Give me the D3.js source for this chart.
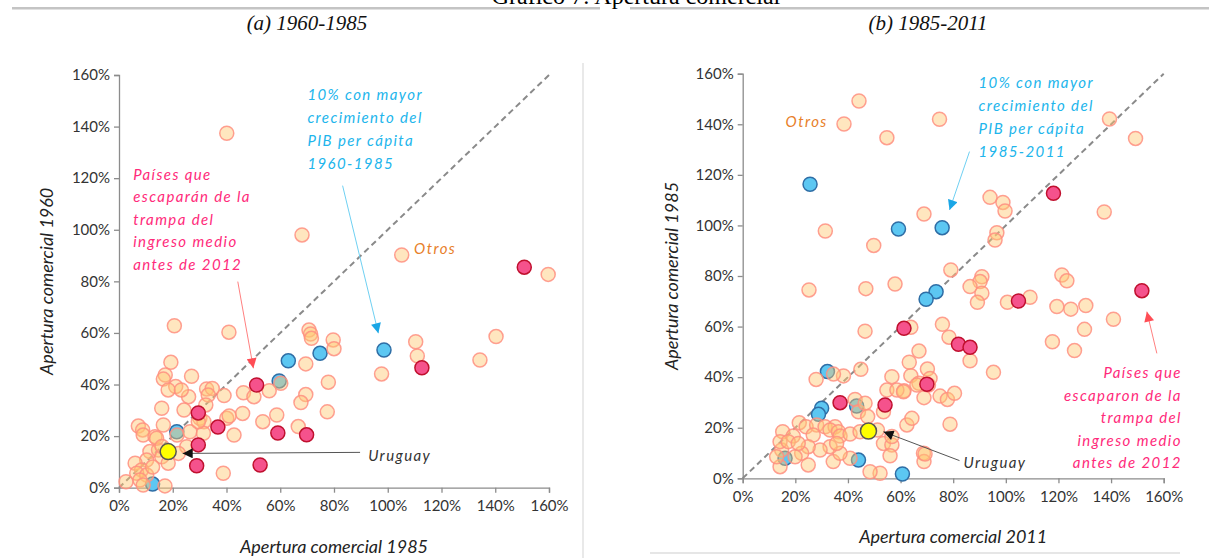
<!DOCTYPE html>
<html>
<head>
<meta charset="utf-8">
<script src="https://cdn.jsdelivr.net/npm/d3@7/dist/d3.min.js"></script>
<style>
  body { margin: 0; background: #fff; }
  svg { display: block; font-family: Lato, "Open Sans", sans-serif; }
</style>
</head>
<body>
<svg width="1209" height="558"></svg>
<script>
// tick values (percent)
var tickValues = [0, 20, 40, 60, 80, 100, 120, 140, 160];

// panel (a) 1960-1985 : [apertura 1985, apertura 1960]
var otrosA = [[40.1,137.4],[68.1,98.0],[105.2,90.2],[159.7,82.7],
  [70.7,61.1],[71.3,59.6],[71.6,57.9],[79.7,57.3],[80.0,53.9],[69.5,48.0],[110.4,56.6],[111.0,51.1],
  [97.7,44.1],[134.3,49.5],[140.3,58.6],[77.9,40.9],[69.5,36.1],[67.7,33.0],[77.5,29.4],[66.7,23.7],
  [20.6,62.8],[40.9,60.3],[19.3,48.6],[17.2,43.7],[16.5,42.1],[27.0,43.2],[21.1,39.2],[18.3,37.9],
  [25.9,35.3],[32.6,38.3],[34.7,38.5],[33.2,35.9],[39.1,35.7],[46.3,36.8],[50.2,35.3],[55.9,37.6],
  [60.2,40.5],[23.2,37.9],[15.9,30.8],[24.2,30.1],[30.1,26.9],[31.6,25.6],[40.1,26.9],[41.0,27.8],
  [46.0,28.8],[53.5,25.6],[58.7,28.2],[42.8,20.4],[16.5,24.3],[7.2,23.9],[8.8,22.4],[9.0,20.4],
  [21.6,20.4],[13.4,19.8],[26.4,21.7],[31.4,21.1],[29.5,25.6],[32.3,32.1],[25.2,15.9],[22.1,13.3],
  [11.5,14.0],[14.7,14.6],[15.9,12.0],[10.3,10.7],[18.3,9.5],[6.0,9.5],[8.4,6.9],[6.6,5.6],
  [10.3,4.9],[7.8,3.0],[2.6,2.3],[9.0,1.0],[17.1,0.7],[38.8,5.6],[14.0,19.2],[16.0,16.0],[12.5,8.0]];
var azulA = [[21.5,21.7],[12.5,1.4],[59.6,41.4],[63.0,49.2],[74.8,52.1],[98.6,53.4]];
var rojoA = [[29.5,29.0],[29.5,16.6],[28.9,8.5],[36.8,23.5],[51.2,39.8],[52.5,8.8],[59.1,21.2],
  [69.8,20.5],[112.7,46.5],[150.8,85.5]];
var uruguayA = [[18.3,14.0]];

// panel (b) 1985-2011 : [apertura 2011, apertura 1985]
var otrosB = [[44.2,149.2],[38.5,140.1],[54.8,134.7],[74.8,142.0],[68.9,104.5],[31.4,97.8],[49.8,92.1],
  [25.2,74.5],[46.8,75.0],[57.9,76.8],[139.4,142.1],[149.3,134.4],[94.0,111.1],[98.9,109.1],[99.7,105.7],
  [137.4,105.3],[96.6,97.1],[95.9,94.2],[79.1,82.4],[90.9,79.7],[90.2,77.8],[86.4,75.8],[121.3,80.4],
  [123.2,78.1],[90.9,73.2],[89.2,69.6],[109.2,71.6],[100.6,69.6],[119.4,67.9],[124.7,66.9],[130.4,68.3],
  [140.9,62.9],[129.9,58.9],[117.7,54.0],[126.1,50.5],[95.3,41.9],[63.9,59.7],[75.9,60.9],[78.4,55.8],
  [86.4,46.5],[67.0,50.3],[63.3,45.9],[70.2,43.2],[63.9,40.6],[67.0,37.6],[71.2,39.5],[61.3,34.6],
  [68.9,31.9],[75.0,32.5],[77.8,31.2],[80.5,33.6],[78.8,21.4],[68.7,9.9],[68.9,6.6],[46.5,58.2],
  [56.7,40.2],[70.6,36.9],[66.2,36.9],[44.9,43.1],[38.3,40.5],[34.5,41.2],[27.9,39.1],[54.8,34.9],
  [58.6,34.9],[61.1,34.2],[42.7,31.2],[44.0,26.3],[46.5,29.7],[53.5,26.3],[47.5,24.4],[21.5,22.0],
  [24.1,20.4],[15.2,18.4],[19.2,16.7],[28.1,21.1],[31.3,20.4],[35.1,20.4],[33.2,19.1],[36.4,18.4],
  [37.0,16.7],[26.8,17.1],[40.8,17.5],[44.6,18.4],[51.2,19.1],[53.5,13.8],[56.7,13.2],[56.0,8.9],
  [56.7,16.5],[62.4,21.1],[64.3,23.7],[69.3,9.6],[52.2,2.0],[48.4,2.6],[40.8,7.9],[34.4,6.6],[37.0,9.9],
  [33.2,12.5],[35.7,13.8],[29.4,11.2],[24.9,12.5],[22.4,9.9],[24.9,5.3],[19.9,8.5],[14.2,4.6],
  [14.8,11.2],[14.2,14.5],[17.3,14.5],[21.1,13.8],[12.9,8.5]];
var azulB = [[25.6,116.3],[59.2,98.6],[75.8,99.1],[73.5,73.8],[69.7,70.8],[32.2,42.2],[30.0,27.7],
  [28.8,25.3],[43.3,28.6],[16.1,7.9],[44.0,7.2],[60.7,1.7]];
var rojoB = [[118.1,112.7],[151.7,74.2],[104.8,70.1],[61.3,59.3],[82.0,53.0],[86.4,51.8],[70.0,37.2],
  [37.0,29.9],[54.1,29.0]];
var uruguayB = [[47.8,18.7]];

var svg = d3.select('svg');

// arrow heads
var defs = svg.append('defs');
[['azul', '#1aa6e6'], ['rosa', '#ff4d55'], ['negro', '#111']].forEach(function (m) {
    defs.append('marker')
        .attr('id', 'm-' + m[0])
        .attr('viewBox', '0 0 10 10')
        .attr('refX', 10).attr('refY', 5)
        .attr('markerWidth', 11).attr('markerHeight', 10)
        .attr('markerUnits', 'userSpaceOnUse')
        .attr('orient', 'auto')
        .append('path').attr('d', 'M0,0L10,5L0,10Z').attr('fill', m[1]);
});

// header rules and titles (the page title is cut by the top edge, as in the source)
svg.append('text').attr('x', 636).attr('y', 4)
    .attr('text-anchor', 'middle')
    .style('font-family', '"Liberation Serif", serif').style('font-size', '24px')
    .text('Gráfico 7: Apertura comercial');
svg.append('rect').attr('x', 12).attr('y', 7).attr('width', 588).attr('height', 2.5).attr('fill', '#c4c4c4');
svg.append('rect').attr('x', 630).attr('y', 7).attr('width', 579).attr('height', 2.5).attr('fill', '#c4c4c4');
svg.append('line').attr('x1', 583).attr('x2', 583).attr('y1', 63).attr('y2', 558)
    .attr('stroke', '#e2e2e2').attr('stroke-width', 1.5);
svg.append('line').attr('x1', 650).attr('x2', 1180).attr('y1', 553).attr('y2', 553)
    .attr('stroke', '#dedede').attr('stroke-width', 1.5);

var panels = [
    {
        sub: '(a) 1960-1985', subX: 307,
        xr: [119, 549], yr: [487.7, 75],
        xTitle: 'Apertura comercial 1985', xTitleY: 553,
        yTitle: 'Apertura comercial 1960', yTitleX: 53,
        otros: otrosA, azul: azulA, rojo: rojoA, uru: uruguayA,
        blueText: ['10% con mayor', 'crecimiento del', 'PIB per cápita', '1960-1985'],
        blueAt: [70.1, 150.3], blueArrow: [[83.2, 117.1], [96.5, 59.9]],
        pinkText: ['Países que', 'escaparán de la', 'trampa del', 'ingreso medio', 'antes de 2012'],
        pinkAt: [5.3, 119.3], pinkAnchor: 'start', pinkArrow: [[44.2, 79.9], [50.0, 46.3]],
        otrosAt: [109.8, 90.6],
        uruAt: [92.7, 10.4], uruArrow: [[89.7, 13.7], [23.7, 13.3]]
    },
    {
        sub: '(b) 1985-2011', subX: 928,
        xr: [742.7, 1163.7], yr: [478.3, 73.7],
        xTitle: 'Apertura comercial 2011', xTitleY: 543,
        yTitle: 'Apertura comercial 1985', yTitleX: 678,
        otros: otrosB, azul: azulB, rojo: rojoB, uru: uruguayB,
        blueText: ['10% con mayor', 'crecimiento del', 'PIB per cápita', '1985-2011'],
        blueAt: [89.6, 154.2], blueArrow: [[86.2, 129.2], [78.6, 106.1]],
        pinkText: ['Países que', 'escaparon de la', 'trampa del', 'ingreso medio', 'antes de 2012'],
        pinkAt: [166.9, 39.5], pinkAnchor: 'end', pinkArrow: [[157.4, 49.4], [153.6, 65.9]],
        otrosAt: [16.3, 138.9],
        uruAt: [83.9, 4.2], uruArrow: [[82.4, 7.0], [53.5, 18.4]]
    }
];

panels.forEach(function (p) {
    var x = d3.scaleLinear().domain([0, 160]).range(p.xr);
    var y = d3.scaleLinear().domain([0, 160]).range(p.yr);
    var g = svg.append('g');

    // subtitle
    svg.append('text').attr('x', p.subX).attr('y', 30)
        .attr('text-anchor', 'middle')
        .style('font-family', '"Liberation Serif", serif').style('font-style', 'italic')
        .style('font-size', '21px').attr('fill', '#111')
        .text(p.sub);

    // axes
    var fmt = function (d) { return d + '%'; };
    var yAxis = g.append('g').attr('transform', 'translate(' + [p.xr[0], 0] + ')')
        .call(d3.axisLeft(y).tickValues(tickValues).tickFormat(fmt).tickSize(5).tickPadding(4));
    var xAxis = g.append('g').attr('transform', 'translate(' + [0, p.yr[0]] + ')')
        .call(d3.axisBottom(x).tickValues(tickValues).tickFormat(fmt).tickSize(5).tickPadding(8));
    [yAxis, xAxis].forEach(function (a) {
        a.selectAll('path, line').attr('stroke', '#8c8c8c').attr('stroke-width', 1.3);
        a.selectAll('text').attr('fill', '#333').style('font-size', '15px').style('font-family', 'Lato, sans-serif');
    });

    // axis titles
    g.append('text').attr('x', (p.xr[0] + p.xr[1]) / 2).attr('y', p.xTitleY)
        .attr('text-anchor', 'middle').style('font-style', 'italic').style('font-size', '18px')
        .attr('fill', '#222').text(p.xTitle);
    g.append('text').attr('transform', 'translate(' + [p.yTitleX, (p.yr[0] + p.yr[1]) / 2] + ') rotate(-90)')
        .attr('text-anchor', 'middle').style('font-style', 'italic').style('font-size', '18px')
        .attr('fill', '#222').text(p.yTitle);

    // 45 degree line
    g.append('line')
        .attr('x1', x(0)).attr('y1', y(0)).attr('x2', x(160)).attr('y2', y(160))
        .attr('stroke', '#8a8a8a').attr('stroke-width', 2).attr('stroke-dasharray', '6,4');

    // points
    g.selectAll('.azul').data(p.azul).enter().append('circle')
        .attr('cx', d => x(d[0])).attr('cy', d => y(d[1])).attr('r', 7)
        .attr('fill', '#5cc7f2').attr('stroke', '#2f6ea6').attr('stroke-width', 1.5);
    g.selectAll('.otros').data(p.otros).enter().append('circle')
        .attr('cx', d => x(d[0])).attr('cy', d => y(d[1])).attr('r', 7)
        .attr('fill', '#ffc870').attr('fill-opacity', 0.45)
        .attr('stroke', '#ff8f80').attr('stroke-opacity', 0.85).attr('stroke-width', 1.5);
    g.selectAll('.rojo').data(p.rojo).enter().append('circle')
        .attr('cx', d => x(d[0])).attr('cy', d => y(d[1])).attr('r', 7)
        .attr('fill', '#f5528c').attr('stroke', '#c0102e').attr('stroke-width', 1.5);
    g.selectAll('.uru').data(p.uru).enter().append('circle')
        .attr('cx', d => x(d[0])).attr('cy', d => y(d[1])).attr('r', 8)
        .attr('fill', '#ffff00').attr('stroke', '#555').attr('stroke-width', 1.5);

    // annotations
    var ann = function (lines, at, color, anchor, step) {
        var t = g.append('text').attr('x', x(at[0])).attr('y', y(at[1]))
            .attr('text-anchor', anchor).attr('fill', color)
            .style('font-style', 'italic').style('font-size', '15px').style('letter-spacing', '1.4px');
        lines.forEach(function (l, i) {
            t.append('tspan').attr('x', x(at[0])).attr('dy', i ? step : 0).text(l);
        });
    };
    var arrow = function (pts, color, marker) {
        g.append('line')
            .attr('x1', x(pts[0][0])).attr('y1', y(pts[0][1]))
            .attr('x2', x(pts[1][0])).attr('y2', y(pts[1][1]))
            .attr('stroke', color).attr('stroke-width', 1)
            .attr('marker-end', 'url(#m-' + marker + ')');
    };
    ann(p.blueText, p.blueAt, '#21b5ec', 'start', 23);
    arrow(p.blueArrow, '#6fd0f2', 'azul');
    ann(p.pinkText, p.pinkAt, '#ff2a7a', p.pinkAnchor, 22.5);
    arrow(p.pinkArrow, '#ff8080', 'rosa');
    ann(['Otros'], p.otrosAt, '#e8802a', 'start', 0);
    ann(['Uruguay'], p.uruAt, '#333', 'start', 0);
    arrow(p.uruArrow, '#555', 'negro');
});
</script>
</body>
</html>
